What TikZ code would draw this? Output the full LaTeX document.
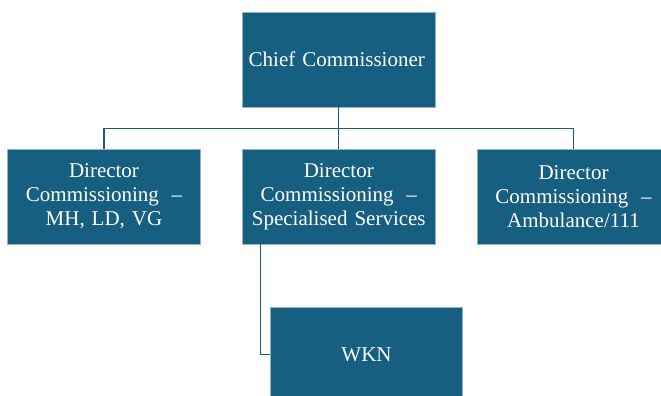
\documentclass[tikz,border=0pt]{standalone}
\usepackage{fontspec}
\setmainfont{Liberation Serif}
\definecolor{boxblue}{HTML}{175F80}
\definecolor{boxedge}{HTML}{8FB4C8}
\definecolor{linkblue}{HTML}{1A5C7C}
\begin{document}
\begin{tikzpicture}[x=1pt,y=1pt,
  orgbox/.style={rectangle, fill=boxblue, draw=boxedge, line width=0.6pt,
    minimum width=192.5pt, minimum height=95pt, inner sep=2pt,
    text=white, align=center, text width=188pt,
    font=\fontsize{21}{24}\selectfont},
  link/.style={draw=linkblue, line width=1.3pt}]
\useasboundingbox (0,0) rectangle (661,396);
\begin{scope}
\clip (0,0) rectangle (661,396);
\node[orgbox] (chief) at (338.75,336.5) {Chief Commissioner\hspace*{4pt}};
\node[orgbox] (left) at (104,199.5) {Director\\Commissioning\hspace{0.6em}--\\MH, LD, VG};
\node[orgbox] (mid) at (338.75,199.5) {Director\\Commissioning\hspace{0.6em}--\\Specialised Services};
\node[orgbox] (right) at (573.5,199.5) {Director\\Commissioning\hspace{0.6em}--\\Ambulance/111};
\node[orgbox] (wkn) at (366.5,41.5) {WKN};
\coordinate (bus) at (338.75,267.7);
\draw[link] (chief.south) -- (mid.north);
\draw[link] (left.north) |- (bus) -| (right.north);
\draw[link] ([xshift=18.5pt]mid.south west) |- (wkn.west);
\end{scope}
\end{tikzpicture}
\end{document}
